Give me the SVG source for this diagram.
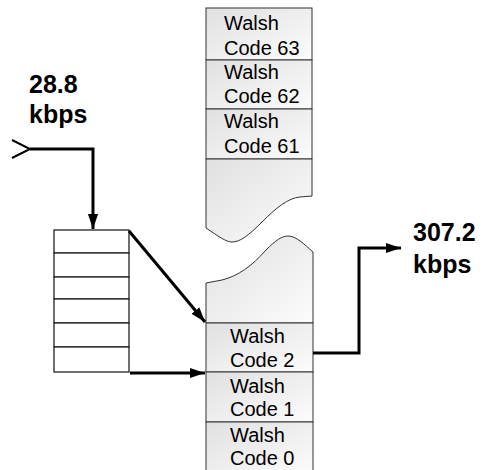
<svg xmlns="http://www.w3.org/2000/svg" width="483" height="470" viewBox="0 0 483 470">
<defs>
<linearGradient id="g" x1="0" y1="0" x2="1" y2="1">
<stop offset="0" stop-color="#e0e0e0"/>
<stop offset="1" stop-color="#fcfcfc"/>
</linearGradient>
<marker id="ah2" viewBox="0 0 10 10" refX="10" refY="5" markerWidth="5" markerHeight="5" orient="auto">
<path d="M0,1.6 L10,5 L0,8.4 z" fill="#000"/>
</marker>
</defs>
<style>
.cell{fill:url(#g);stroke:#333;stroke-width:1}
.reg{fill:#fff;stroke:#222;stroke-width:1.3}
.w{font-family:"Liberation Sans",Arial,sans-serif;font-size:20px;fill:#000}
.b{font-family:"Liberation Sans",Arial,sans-serif;font-size:25px;font-weight:bold;fill:#000}
.c{fill:none;stroke:#000;stroke-width:3}
</style>
<g id="top-column">
<rect class="cell" x="206" y="8" width="106" height="52"/>
<rect class="cell" x="206" y="60" width="106" height="49"/>
<rect class="cell" x="206" y="109" width="106" height="50"/>
<path class="cell" d="M206,159 L312,159 L312,196 L300,197 C288,198 276,208 262,222 C248,236 240,242 232,242 C226,242 218,236 206,228 Z"/>
<text class="w" x="224" y="30">Walsh</text>
<text class="w" x="224" y="55">Code 63</text>
<text class="w" x="224" y="79">Walsh</text>
<text class="w" x="224" y="103">Code 62</text>
<text class="w" x="224" y="128">Walsh</text>
<text class="w" x="224" y="153">Code 61</text>
</g>
<g id="bottom-column">
<path class="cell" d="M206,323 L206,283 L222,280 C238,276 252,266 266,250 C276,240 282,236 288,236 C296,236 304,244 313,252 L313,323 Z"/>
<rect class="cell" x="206" y="323" width="107" height="49"/>
<rect class="cell" x="206" y="372" width="107" height="50"/>
<rect class="cell" x="206" y="422" width="107" height="52"/>
<text class="w" x="230" y="343">Walsh</text>
<text class="w" x="230" y="367">Code 2</text>
<text class="w" x="230" y="393">Walsh</text>
<text class="w" x="230" y="416">Code 1</text>
<text class="w" x="230" y="442">Walsh</text>
<text class="w" x="230" y="465">Code 0</text>
</g>
<g id="register">
<rect class="reg" x="54" y="230" width="75" height="23"/>
<rect class="reg" x="54" y="253" width="75" height="24"/>
<rect class="reg" x="54" y="277" width="75" height="22"/>
<rect class="reg" x="54" y="299" width="75" height="24"/>
<rect class="reg" x="54" y="323" width="75" height="24"/>
<rect class="reg" x="54" y="347" width="75" height="25"/>
</g>
<g id="labels">
<text class="b" x="29" y="93">28.8</text>
<text class="b" x="29" y="123">kbps</text>
<text class="b" x="413" y="241">307.2</text>
<text class="b" x="413" y="273">kbps</text>
</g>
<g id="connectors">
<path d="M12,140 L30,149 L12,158" fill="none" stroke="#000" stroke-width="2"/>
<path class="c" d="M30,149 L93,149 L93,229" marker-end="url(#ah2)"/>
<path class="c" d="M129,231 L205,322" marker-end="url(#ah2)"/>
<path class="c" d="M130,373 L205,373" marker-end="url(#ah2)"/>
<path class="c" d="M313,353 L359,353 L359,248 L401,248" marker-end="url(#ah2)"/>
</g>
</svg>
